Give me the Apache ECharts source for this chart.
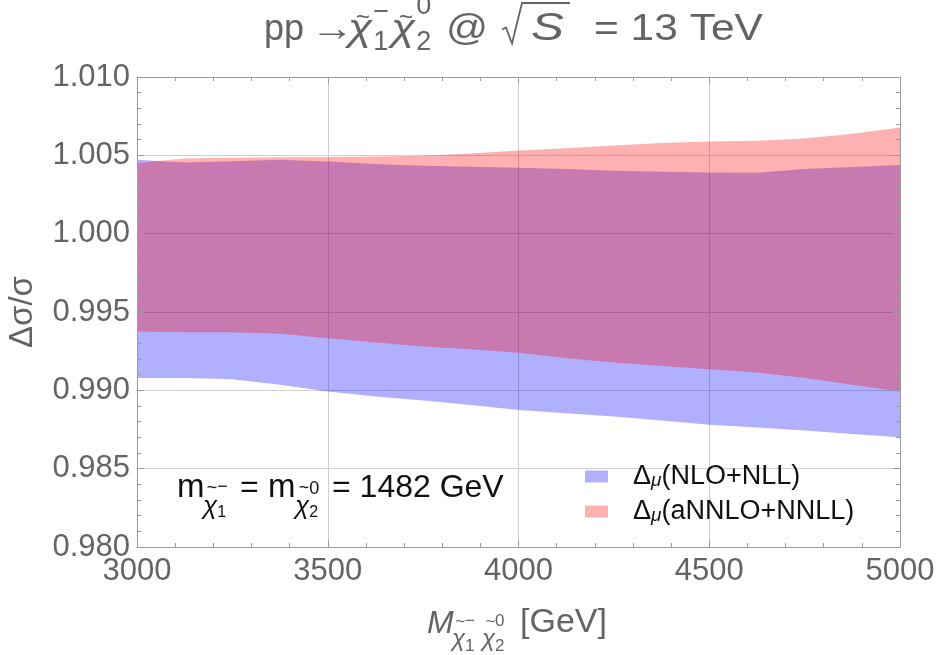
<!DOCTYPE html>
<html><head><meta charset="utf-8">
<script src="https://cdn.jsdelivr.net/npm/echarts@6/dist/echarts.min.js"></script>
<style>html,body{margin:0;padding:0;background:#fff}#c{width:940px;height:655px}</style>
</head><body><div id="c"></div>
<script>
// ---- data ----
const mass = [3000, 3125, 3250, 3375, 3500, 3625, 3750, 3875, 4000, 4125, 4250, 4375, 4500, 4625, 4750, 4875, 5000];
const nloHigh = [1.00472, 1.00455, 1.00463, 1.00472, 1.00461, 1.00444, 1.00434, 1.00427, 1.00421, 1.00412, 1.00402, 1.00395, 1.00391, 1.00389, 1.00412, 1.00425, 1.00438];
const nloLow = [0.99078, 0.99078, 0.99071, 0.99035, 0.98992, 0.98961, 0.98935, 0.98907, 0.98875, 0.98854, 0.98833, 0.98807, 0.98780, 0.98763, 0.98743, 0.98722, 0.98701];
const nnloHigh = [1.00451, 1.00480, 1.00485, 1.00487, 1.00489, 1.00493, 1.00497, 1.00512, 1.00531, 1.00546, 1.00563, 1.00578, 1.00589, 1.00593, 1.00608, 1.00638, 1.00678];
const nnloLow = [0.99376, 0.99371, 0.99370, 0.99361, 0.99333, 0.99305, 0.99280, 0.99263, 0.99240, 0.99205, 0.99178, 0.99156, 0.99135, 0.99114, 0.99078, 0.99035, 0.98992];
const xTickLabels = ['3000', '3500', '4000', '4500', '5000'];
const yTickLabels = ['0.980', '0.985', '0.990', '0.995', '1.000', '1.005', '1.010'];
const seriesNames = ['NLO+NLL', 'aNNLO+NNLL'];

// ---- styles ----
const FONT = '"Liberation Sans", Arial, sans-serif';
const GREY = '#646464';
const FRAME = '#9a9a9a';
const GRID = '#cfcfcf';
const BLUE = 'rgba(0,0,255,0.31)';
const RED = 'rgba(255,0,0,0.31)';

const ctx = document.createElement('canvas').getContext('2d');
function fontStr(s, it) { return (it ? 'italic ' : '') + s + 'px ' + FONT; }
function measure(t, s, it) { ctx.font = fontStr(s, it); return ctx.measureText(t).width; }

// text pieces: base pieces carry an absolute x (ax); 'over' pieces are centred above the
// previous base piece, 'sub' pieces follow it, 'stack' pieces sit at the sub's x.
function mathLine(items, baseY, color) {
  let cur = 0, lastBase = null, subStart = 0;
  const els = [], pos = {};
  items.forEach(it => {
    const sx = it.sx || 1;
    const w = measure(it.t, it.s, it.it) * sx;
    let x;
    if (it.m === 'over') x = lastBase.x + lastBase.w / 2 - w / 2 + (it.dx || 0);
    else if (it.m === 'stack') x = subStart + (it.dx || 0);
    else if (it.m === 'sub') { x = (it.ax != null ? it.ax : cur) + (it.dx || 0); subStart = x; cur = x + w; }
    else { x = (it.ax != null ? it.ax : cur) + (it.dx || 0); lastBase = { x, w }; cur = x + w; }
    if (it.id) pos[it.id] = { x, w };
    const y = it.m === 'over' ? baseY + it.dy : baseY + (it.dy || 0) - 0.35 * it.s;
    els.push({
      type: 'text', x: x, y: y, scaleX: sx, silent: true, z: 10,
      style: { text: it.t, font: fontStr(it.s, it.it), fill: color,
        align: 'left', textAlign: 'left', verticalAlign: 'middle', textVerticalAlign: 'middle' }
    });
  });
  return { els, pos };
}

// title
const tb = 42.5;
const title = mathLine([
  { t: 'pp', s: 36, ax: 264 },
  { t: '→', s: 36, sx: 1.2, ax: 311 },
  { t: 'χ', s: 37, it: 1, sx: 1.2, ax: 348 },
  { t: '~', s: 24, m: 'over', dy: -24, dx: 3 },
  { t: '1', s: 27, m: 'sub', dy: 9, dx: 1 },
  { t: '−', s: 27, m: 'stack', dy: -21 },
  { t: 'χ', s: 37, it: 1, sx: 1.2, ax: 391 },
  { t: '~', s: 24, m: 'over', dy: -24, dx: 3 },
  { t: '2', s: 27, m: 'sub', dy: 9, dx: 1 },
  { t: '0', s: 27, m: 'stack', dy: -27 },
  { t: '@', s: 36, sx: 1.15, ax: 446 },
  { t: 'S', s: 38, it: 1, sx: 1.3, ax: 531, id: 'S' },
  { t: '= 13 TeV', s: 36, sx: 1.18, ax: 594 }
], tb, GREY);
const sEnd = title.pos.S.x + title.pos.S.w + 6;
title.els.push({
  type: 'polyline', silent: true, z: 10,
  shape: { points: [[502, tb - 13], [506, tb - 15], [512, tb + 1], [522, 3], [sEnd, 3]] },
  style: { stroke: GREY, lineWidth: 1.8, fill: null }
});

// x-axis name
const xb = 635;
const xName = mathLine([
  { t: 'M', s: 32, it: 1, ax: 427 },
  { t: 'χ', s: 24, it: 1, dy: 13, ax: 452 },
  { t: '~', s: 17, m: 'over', dy: -13, dx: 2 },
  { t: '1', s: 17, m: 'sub', dy: 17, dx: 0 },
  { t: '−', s: 17, m: 'stack', dy: -8 },
  { t: 'χ', s: 24, it: 1, dy: 13, ax: 482 },
  { t: '~', s: 17, m: 'over', dy: -13, dx: 2 },
  { t: '2', s: 17, m: 'sub', dy: 17, dx: 0 },
  { t: '0', s: 17, m: 'stack', dy: -8 },
  { t: '[GeV]', s: 34, ax: 520 }
], xb, GREY);

// annotation
const nb = 499;
const note = mathLine([
  { t: 'm', s: 33, ax: 177 },
  { t: 'χ', s: 26, it: 1, dy: 17, ax: 203 },
  { t: '~', s: 18, m: 'over', dy: -11, dx: 2 },
  { t: '1', s: 16, m: 'sub', dy: 19 },
  { t: '−', s: 18, m: 'stack', dy: -6 },
  { t: '=', s: 32, ax: 240 },
  { t: 'm', s: 33, ax: 268 },
  { t: 'χ', s: 26, it: 1, dy: 17, ax: 295 },
  { t: '~', s: 18, m: 'over', dy: -11, dx: 2 },
  { t: '2', s: 16, m: 'sub', dy: 19 },
  { t: '0', s: 18, m: 'stack', dy: -4 },
  { t: '= 1482 GeV', s: 32, ax: 332 }
], nb, '#111');

const yName = {
  type: 'text', x: 23, y: 312, rotation: Math.PI / 2, silent: true, z: 10,
  style: { text: 'Δσ/σ', font: '33px ' + FONT, fill: GREY, align: 'center', textAlign: 'center', verticalAlign: 'middle', textVerticalAlign: 'middle' }
};

const xMin = 3000, xMax = 5000, xInt = 500;
const yMin = 0.98, yMax = 1.01, yInt = 0.005;

function frameAxis(pos, isX, labels) {
  const a = {
    type: 'value', position: pos, z: 3,
    min: isX ? xMin : yMin, max: isX ? xMax : yMax, interval: isX ? xInt : yInt,
    axisLine: { show: true, onZero: false, lineStyle: { color: FRAME, width: 1 } },
    axisTick: { show: true, inside: true, length: 7, lineStyle: { color: FRAME, width: 1 } },
    minorTick: { show: true, splitNumber: 5, length: 4, lineStyle: { color: FRAME, width: 1 } },
    splitLine: { show: false },
    axisLabel: { show: false }
  };
  if (labels) {
    a.axisLabel = {
      show: true, color: GREY, fontSize: 31, fontFamily: FONT,
      margin: isX ? 9 : 7, showMinLabel: true, showMaxLabel: true,
      formatter: isX ? (v => xTickLabels[Math.round((v - xMin) / xInt)])
                     : (v => yTickLabels[Math.round((v - yMin) / yInt)])
    };
  }
  return a;
}
function gridAxis(pos, isX) {
  return {
    type: 'value', position: pos, z: 0,
    min: isX ? xMin : yMin, max: isX ? xMax : yMax, interval: isX ? xInt : yInt,
    axisLine: { show: false }, axisTick: { show: false }, axisLabel: { show: false },
    splitLine: { show: true, lineStyle: { color: GRID, width: 1 } }
  };
}

// band between low and high, drawn as one polygon through the axis scales
function band(name, low, high, color) {
  return {
    type: 'custom', name: name, xAxisIndex: 0, yAxisIndex: 0, z: 2, silent: true,
    itemStyle: { color: color },
    data: mass.map((m, i) => [m, low[i], high[i]]),
    encode: { x: 0, y: [1, 2] },
    renderItem: function (params, api) {
      if (params.dataIndex !== 0) return null;
      const pts = [];
      for (let i = 0; i < mass.length; i++) pts.push(api.coord([mass[i], high[i]]));
      for (let i = mass.length - 1; i >= 0; i--) pts.push(api.coord([mass[i], low[i]]));
      return { type: 'polygon', shape: { points: pts }, style: { fill: color } };
    }
  };
}

const chart = echarts.init(document.getElementById('c'), null, { renderer: 'canvas' });
chart.setOption({
  animation: false,
  backgroundColor: '#fff',
  grid: { left: 137, right: 40, top: 77, bottom: 108, containLabel: false },
  xAxis: [frameAxis('bottom', true, true), frameAxis('top', true, false), gridAxis('bottom', true)],
  yAxis: [frameAxis('left', false, true), frameAxis('right', false, false), gridAxis('left', false)],
  legend: {
    orient: 'vertical', left: 585, top: 463, padding: 0, itemWidth: 23, itemHeight: 12, itemGap: 8,
    icon: 'rect', selectedMode: false,
    itemStyle: { borderWidth: 0 },
    data: [
      { name: seriesNames[0], icon: 'rect', itemStyle: { color: BLUE, borderWidth: 0 } },
      { name: seriesNames[1], icon: 'rect', itemStyle: { color: RED, borderWidth: 0 } }
    ],
    formatter: n => '{d0|Δ}{m|μ}{d|(' + n + ')}',
    textStyle: {
      color: '#111', fontSize: 27, fontFamily: FONT,
      rich: {
        d0: { fontSize: 27, fontFamily: FONT, color: '#111', padding: [0, 0, 0, 20] },
        d: { fontSize: 27, fontFamily: FONT, color: '#111' },
        m: { fontSize: 19, fontFamily: FONT, fontStyle: 'italic', color: '#111', padding: [8, 0, 0, 0] }
      }
    }
  },
  series: [band(seriesNames[0], nloLow, nloHigh, BLUE), band(seriesNames[1], nnloLow, nnloHigh, RED)],
  graphic: { elements: [].concat(title.els, xName.els, note.els, [yName]) }
});
</script>
</body></html>
